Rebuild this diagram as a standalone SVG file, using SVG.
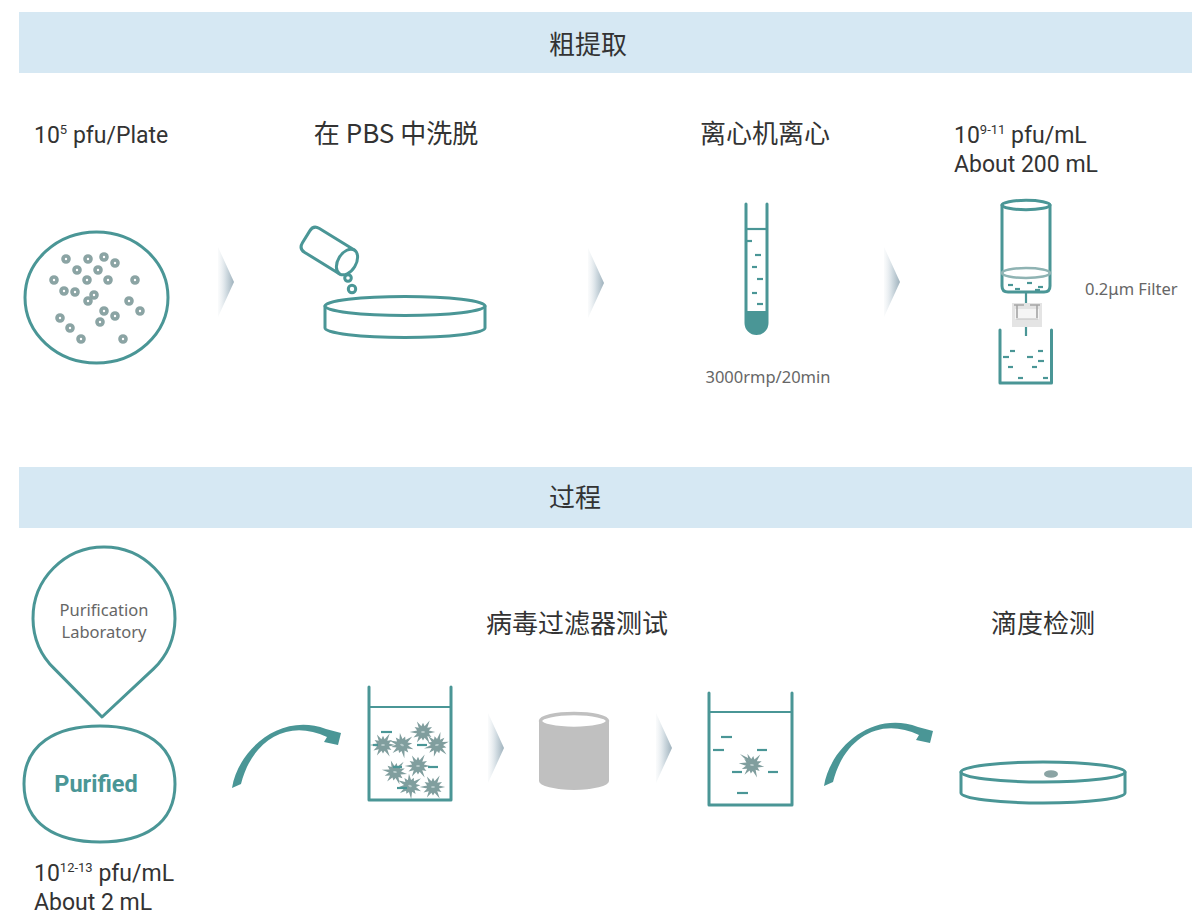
<svg xmlns="http://www.w3.org/2000/svg" width="1192" height="914" viewBox="0 0 1192 914">
  <style>
    .banner { fill: #d6e8f3; }
    .title { font-family: "Noto Sans CJK SC", "Noto Sans", sans-serif; font-size: 26px; fill: #333333; text-anchor: middle; }
    .lbl { font-family: Roboto, "Noto Sans", sans-serif; font-size: 23px; fill: #333333; }
    .small { font-family: "Noto Sans", "Open Sans", sans-serif; font-size: 16.5px; fill: #666666; }
    .teal { fill: none; stroke: #4a9696; stroke-width: 3; stroke-linecap: round; stroke-linejoin: round; }
    .dash { stroke: #4a9696; stroke-width: 2.2; stroke-linecap: butt; }
    .dot { fill: none; stroke: #8ba4a4; stroke-width: 3.6; }
    .virus { fill: #809e9e; }
    .chev { fill: url(#chevGrad); }
    .arrow { fill: #4a9696; }
  </style>
  <defs>
    <linearGradient id="chevGrad" x1="0" y1="0" x2="1" y2="0">
      <stop offset="0" stop-color="#f2f5f7" stop-opacity="0.4"/>
      <stop offset="0.5" stop-color="#d3dde3"/>
      <stop offset="1" stop-color="#9fb2bd"/>
    </linearGradient>
    <linearGradient id="dishGrad" x1="0" y1="0" x2="0" y2="1">
      <stop offset="0" stop-color="#f7f9fa"/>
      <stop offset="1" stop-color="#e8edf0"/>
    </linearGradient>
    <path id="chevron" d="M0,0 L16,35 L0,70 Z"/>
    <g id="virus">
      <g transform="scale(1.22)">
        <path class="virus" d="M10,0 L4.8,1.3 L6.9,4 L3.5,3.5 L5.5,9.5 L1.3,4.8 L0,7 L-1.3,4.8 L-5,8.7 L-3.5,3.5 L-7.8,4.5 L-4.8,1.3 L-11,0 L-4.8,-1.3 L-6.9,-4 L-3.5,-3.5 L-5,-8.7 L-1.3,-4.8 L0,-7.5 L1.3,-4.8 L5.5,-9.5 L3.5,-3.5 L7.4,-4.2 L4.8,-1.3 Z"/>
        <ellipse cx="0" cy="0" rx="1.6" ry="0.8" fill="#b9cccc"/>
      </g>
    </g>
    <path id="curveArrow" d="M232,788 C238,750 280,712 326,729 L341,733 L338,745 L324,742 L327,737 C288,718 252,740 241,784 Z"/>
  </defs>

  <!-- section banners -->
  <g id="banner-crude">
    <rect class="banner" x="19" y="12" width="1173" height="61"/>
    <text class="title" x="588" y="54">粗提取</text>
  </g>
  <g id="banner-process">
    <rect class="banner" x="19" y="467" width="1173" height="61"/>
    <text class="title" x="575" y="507">过程</text>
  </g>

  <!-- step 1: plate -->
  <g id="plate">
    <text class="lbl" x="34" y="143">10<tspan font-size="13" dy="-9">5</tspan><tspan dy="9"> pfu/Plate</tspan></text>
    <ellipse class="teal" cx="96.5" cy="297.5" rx="71.5" ry="65.5"/>
    <g>
      <circle class="dot" cx="66" cy="259" r="3"/>
      <circle class="dot" cx="88" cy="259" r="3"/>
      <circle class="dot" cx="104" cy="257" r="3"/>
      <circle class="dot" cx="115" cy="263" r="3"/>
      <circle class="dot" cx="77" cy="270" r="3"/>
      <circle class="dot" cx="98" cy="270" r="3"/>
      <circle class="dot" cx="54" cy="280" r="3"/>
      <circle class="dot" cx="87" cy="280" r="3"/>
      <circle class="dot" cx="108" cy="280" r="3"/>
      <circle class="dot" cx="135" cy="280" r="3"/>
      <circle class="dot" cx="64" cy="291" r="3"/>
      <circle class="dot" cx="75" cy="292" r="3"/>
      <circle class="dot" cx="94" cy="295" r="3"/>
      <circle class="dot" cx="88" cy="301" r="3"/>
      <circle class="dot" cx="129" cy="301" r="3"/>
      <circle class="dot" cx="104" cy="311" r="3"/>
      <circle class="dot" cx="115" cy="316" r="3"/>
      <circle class="dot" cx="140" cy="311" r="3"/>
      <circle class="dot" cx="60" cy="318" r="3"/>
      <circle class="dot" cx="100" cy="322" r="3"/>
      <circle class="dot" cx="70" cy="328" r="3"/>
      <circle class="dot" cx="81" cy="339" r="3"/>
      <circle class="dot" cx="123" cy="339" r="3"/>
    </g>
  </g>

  <!-- step 2: elution in PBS -->
  <g id="elution">
    <text class="title" x="396" y="143">在 PBS 中洗脱</text>
    <g transform="translate(347,262) rotate(31.6)">
      <path class="teal" d="M0,-14 L-41,-14 Q-48,-14 -48,-7 L-48,7 Q-48,14 -41,14 L0,14"/>
      <ellipse class="teal" cx="0" cy="0" rx="9" ry="14" fill="#ffffff"/>
    </g>
    <circle class="teal" cx="348" cy="278" r="3.3" stroke-width="2.5"/>
    <circle class="teal" cx="352" cy="289" r="3.7" stroke-width="2.5"/>
    <path class="teal" d="M325,306 L325,328 A80,9.5 0 0 0 485,328 L485,306" fill="#ffffff"/>
    <ellipse class="teal" cx="405" cy="306" rx="80" ry="9.5" fill="url(#dishGrad)"/>
  </g>

  <!-- step 3: centrifuge -->
  <g id="centrifuge">
    <text class="title" x="765" y="143">离心机离心</text>
    <path d="M746,311 L767,311 L767,323 A10.5,10.5 0 0 1 746,323 Z" fill="#4a9696"/>
    <path class="teal" d="M746,204 L746,323 A10.5,10.5 0 0 0 767,323 L767,204" stroke-linecap="butt"/>
    <line class="dash" x1="746" y1="229" x2="767" y2="229" stroke-width="2.6"/>
    <line class="dash" x1="747" y1="241" x2="752" y2="241"/>
    <line class="dash" x1="755" y1="255" x2="761" y2="255"/>
    <line class="dash" x1="752" y1="267" x2="757" y2="267"/>
    <line class="dash" x1="757" y1="279" x2="763" y2="279"/>
    <line class="dash" x1="752" y1="293" x2="757" y2="293"/>
    <line class="dash" x1="757" y1="304" x2="763" y2="304"/>
    <text class="small" x="768" y="383" text-anchor="middle">3000rmp/20min</text>
  </g>

  <!-- step 4: filtration -->
  <g id="filtration">
    <text class="lbl" x="954" y="143">10<tspan font-size="13" dy="-9">9-11</tspan><tspan dy="9"> pfu/mL</tspan></text>
    <text class="lbl" x="954" y="172">About 200 mL</text>
    <path class="teal" d="M1002,205 L1002,286 Q1002,292 1008,292 L1044,292 Q1050,292 1050,286 L1050,205"/>
    <ellipse class="teal" cx="1026" cy="205" rx="24" ry="4.7"/>
    <ellipse cx="1026" cy="273" rx="24" ry="5" fill="none" stroke="#8fb3b3" stroke-width="2.5"/>
    <line class="dash" x1="1008" y1="285" x2="1013" y2="285"/>
    <line class="dash" x1="1027" y1="283" x2="1032" y2="283"/>
    <line class="dash" x1="1038" y1="287" x2="1043" y2="287"/>
    <line class="dash" x1="1015" y1="289" x2="1020" y2="289"/>
    <line class="dash" x1="1035" y1="290" x2="1040" y2="290"/>
    <line class="dash" x1="1026" y1="293" x2="1026" y2="303"/>
    <rect x="1012" y="303" width="30" height="24" fill="#e4e4e4"/>
    <rect x="1015" y="309" width="24" height="10" fill="#f5f5f5"/>
    <path d="M1014,305 L1024,305 M1017,305 L1017,318 M1030,305 L1040,305 M1037,305 L1037,318" stroke="#a5a5a5" stroke-width="1.6" fill="none"/>
    <line x1="1016" y1="319" x2="1038" y2="319" stroke="#c9c9c9" stroke-width="1.2"/>
    <line class="dash" x1="1026" y1="327" x2="1026" y2="336"/>
    <path class="teal" d="M1000,330 L1000,383 L1051.5,383 L1051.5,330" stroke-linecap="butt" stroke-linejoin="miter"/>
    <line class="dash" x1="1010" y1="351" x2="1015" y2="351"/>
    <line class="dash" x1="1038" y1="351" x2="1043" y2="351"/>
    <line class="dash" x1="1003" y1="357" x2="1009" y2="357"/>
    <line class="dash" x1="1027" y1="357" x2="1033" y2="357"/>
    <line class="dash" x1="1038" y1="361" x2="1044" y2="361"/>
    <line class="dash" x1="1008" y1="367" x2="1013" y2="367"/>
    <line class="dash" x1="1032" y1="367" x2="1037" y2="367"/>
    <line class="dash" x1="1018" y1="378" x2="1023" y2="378"/>
    <line class="dash" x1="1043" y1="378" x2="1048" y2="378"/>
    <text class="small" x="1085" y="295">0.2μm Filter</text>
  </g>

  <!-- purification lab marker -->
  <g id="purification-lab">
    <path class="teal" d="M102,717 L54.5,668.9 A71,71 0 1 1 153.5,668.9 Z" stroke-width="2.6"/>
    <text class="small" x="104" y="616" text-anchor="middle">Purification</text>
    <text class="small" x="104" y="638" text-anchor="middle">Laboratory</text>
  </g>

  <!-- purified product -->
  <g id="purified">
    <path class="teal" d="M24,784 C24,744 56,726 100,726 C144,726 175,744 175,784 C175,824 144,842 100,842 C56,842 24,824 24,784 Z" stroke-width="2.6"/>
    <text x="96" y="792" text-anchor="middle" font-family="Roboto, 'Noto Sans', sans-serif" font-size="23.5" font-weight="bold" fill="#4a9696">Purified</text>
    <text class="lbl" x="34" y="881">10<tspan font-size="13" dy="-9">12-13</tspan><tspan dy="9"> pfu/mL</tspan></text>
    <text class="lbl" x="34" y="910">About 2 mL</text>
  </g>

  <!-- virus filter test -->
  <g id="virus-filter-test">
    <text class="title" x="577" y="633">病毒过滤器测试</text>
  </g>
  <g id="beaker-before">
    <path class="teal" d="M369,687 L369,800 L451,800 L451,687" stroke-linecap="butt" stroke-linejoin="miter"/>
    <line class="dash" x1="369" y1="707" x2="451" y2="707" stroke-width="3"/>
    <use href="#virus" x="383" y="745"/>
    <use href="#virus" x="402" y="745" transform="rotate(20 402 745)"/>
    <use href="#virus" x="423" y="732"/>
    <use href="#virus" x="437" y="745" transform="rotate(-15 437 745)"/>
    <use href="#virus" x="395" y="772" transform="rotate(10 395 772)"/>
    <use href="#virus" x="418" y="766"/>
    <use href="#virus" x="410" y="786" transform="rotate(25 410 786)"/>
    <use href="#virus" x="433" y="787"/>
    <line class="dash" x1="381" y1="732" x2="392" y2="732" stroke-width="2.6"/>
    <line class="dash" x1="373" y1="745" x2="378" y2="745" stroke-width="2.6"/>
    <line class="dash" x1="417" y1="745" x2="427" y2="745" stroke-width="2.6"/>
    <line class="dash" x1="393" y1="767" x2="402" y2="767" stroke-width="2.6"/>
    <line class="dash" x1="428" y1="767" x2="438" y2="767" stroke-width="2.6"/>
    <line class="dash" x1="397" y1="788" x2="407" y2="788" stroke-width="2.6"/>
  </g>
  <g id="filter-cartridge">
    <path d="M539,721 L539,781 A35,9 0 0 0 609,781 L609,721 Z" fill="#c0c0c0"/>
    <ellipse cx="574" cy="721" rx="33.5" ry="7.5" fill="#ffffff" stroke="#c0c0c0" stroke-width="3.5"/>
  </g>
  <g id="beaker-after">
    <path class="teal" d="M709,693 L709,805 L792,805 L792,693" stroke-linecap="butt" stroke-linejoin="miter"/>
    <line class="dash" x1="709" y1="712" x2="792" y2="712" stroke-width="3"/>
    <line class="dash" x1="721" y1="737" x2="732" y2="737" stroke-width="2.6"/>
    <line class="dash" x1="713" y1="750" x2="724" y2="750" stroke-width="2.6"/>
    <line class="dash" x1="757" y1="750" x2="767" y2="750" stroke-width="2.6"/>
    <line class="dash" x1="732" y1="772" x2="742" y2="772" stroke-width="2.6"/>
    <line class="dash" x1="768" y1="772" x2="778" y2="772" stroke-width="2.6"/>
    <line class="dash" x1="737" y1="793" x2="748" y2="793" stroke-width="2.6"/>
    <use href="#virus" x="752" y="765" transform="rotate(8 752 765)"/>
    <path class="virus" d="M747,761 L740,754 L750,759 Z"/>
  </g>

  <!-- titer assay -->
  <g id="titer-assay">
    <text class="title" x="1043" y="633">滴度检测</text>
    <path class="teal" d="M961,772 L961,793 A82,10 0 0 0 1125,793 L1125,772" fill="#ffffff"/>
    <ellipse class="teal" cx="1043" cy="772" rx="82" ry="10" fill="url(#dishGrad)"/>
    <ellipse cx="1051" cy="774" rx="7" ry="3.8" fill="#8ba4a4"/>
  </g>

  <!-- connectors -->
  <g id="connectors">
    <use href="#chevron" class="chev" x="218" y="247"/>
    <use href="#chevron" class="chev" x="588" y="248"/>
    <use href="#chevron" class="chev" x="884" y="247"/>
    <use href="#chevron" class="chev" x="488" y="713"/>
    <use href="#chevron" class="chev" x="656" y="713"/>
    <use href="#curveArrow" class="arrow"/>
    <use href="#curveArrow" class="arrow" transform="translate(592,-2)"/>
  </g>
</svg>
